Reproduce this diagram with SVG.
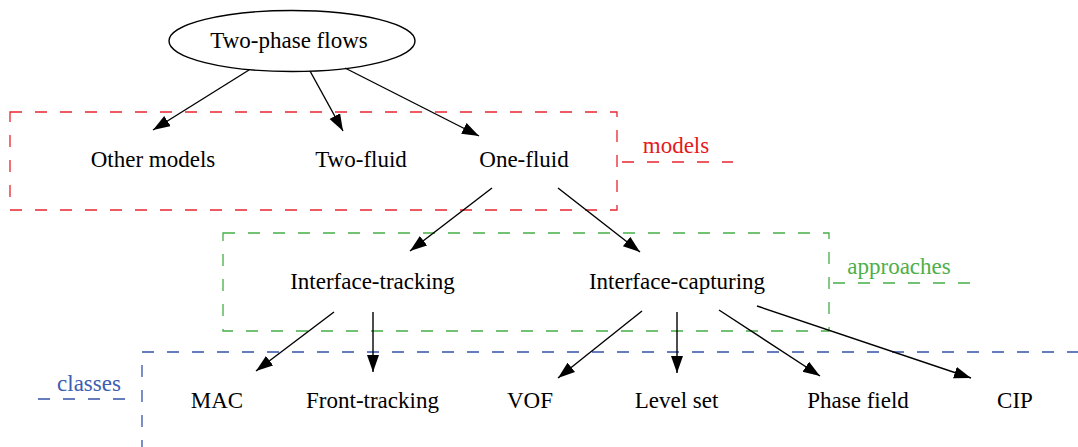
<svg xmlns="http://www.w3.org/2000/svg" width="1078" height="447" viewBox="0 0 1078 447">
<defs>
<marker id="ah" markerUnits="userSpaceOnUse" markerWidth="19" markerHeight="14" refX="17" refY="6" orient="auto">
<path d="M0,0 L17,6 L0,12 z" fill="#000"/>
</marker>
</defs>
<style>
text{font-size:23px;text-anchor:middle;fill:#000}
.e{stroke:#000;stroke-width:1.4;fill:none;marker-end:url(#ah)}
.cl{fill:none;stroke-width:1.3;stroke-dasharray:12 13}
.red{stroke:#e8242e}
.grn{stroke:#45ad45}
.blu{stroke:#3553a8}
</style>
<rect width="1078" height="447" fill="#fff"/>
<g id="clusters">
<g id="cluster-models">
<rect class="cl red" x="10" y="112" width="607" height="98"/>
<path class="cl red" d="M622,162 H733"/>
<text x="676" y="153" font-family="Liberation Serif, serif" style="fill:#e41a1c">models</text>
</g>
<g id="cluster-approaches">
<rect class="cl grn" x="223" y="233" width="606" height="98"/>
<path class="cl grn" d="M833,283 H971"/>
<text x="899" y="274" font-family="Liberation Serif, serif" style="fill:#4daf4a">approaches</text>
</g>
<g id="cluster-classes">
<rect class="cl blu" x="142" y="352" width="1000" height="200"/>
<path class="cl blu" d="M38,399 H138"/>
<text x="89" y="391" font-family="Liberation Serif, serif" style="fill:#3c5db0">classes</text>
</g>
</g>
<g id="connectors">
<path class="e" d="M249,70 L153,130"/>
<path class="e" d="M310,71 L343,131"/>
<path class="e" d="M345,68 L479,136"/>
<path class="e" d="M492,188 L410,251"/>
<path class="e" d="M558,188 L640,252"/>
<path class="e" d="M334,312 L256,371"/>
<path class="e" d="M373,312 L373,372"/>
<path class="e" d="M642,311 L558,378"/>
<path class="e" d="M677,312 L677,373"/>
<path class="e" d="M719,310 L820,376"/>
<path class="e" d="M757,306 L971,378"/>
</g>
<g id="nodes">
<g id="node-two-phase-flows">
<ellipse cx="292" cy="41" rx="123" ry="30.5" fill="none" stroke="#000" stroke-width="1.4"/>
<text x="289" y="48" font-family="Liberation Serif, serif">Two-phase flows</text>
</g>
<g id="node-other-models"><text x="153" y="167" font-family="Liberation Serif, serif">Other models</text></g>
<g id="node-two-fluid"><text x="361" y="167" font-family="Liberation Serif, serif">Two-fluid</text></g>
<g id="node-one-fluid"><text x="524" y="167" font-family="Liberation Serif, serif">One-fluid</text></g>
<g id="node-interface-tracking"><text x="372.5" y="289" font-family="Liberation Serif, serif">Interface-tracking</text></g>
<g id="node-interface-capturing"><text x="677" y="289" font-family="Liberation Serif, serif">Interface-capturing</text></g>
<g id="node-mac"><text x="217" y="408" font-family="Liberation Serif, serif">MAC</text></g>
<g id="node-front-tracking"><text x="372.5" y="408" font-family="Liberation Serif, serif">Front-tracking</text></g>
<g id="node-vof"><text x="530" y="408" font-family="Liberation Serif, serif">VOF</text></g>
<g id="node-level-set"><text x="676.5" y="408" font-family="Liberation Serif, serif">Level set</text></g>
<g id="node-phase-field"><text x="858" y="408" font-family="Liberation Serif, serif">Phase field</text></g>
<g id="node-cip"><text x="1015" y="408" font-family="Liberation Serif, serif">CIP</text></g>
</g>
</svg>
